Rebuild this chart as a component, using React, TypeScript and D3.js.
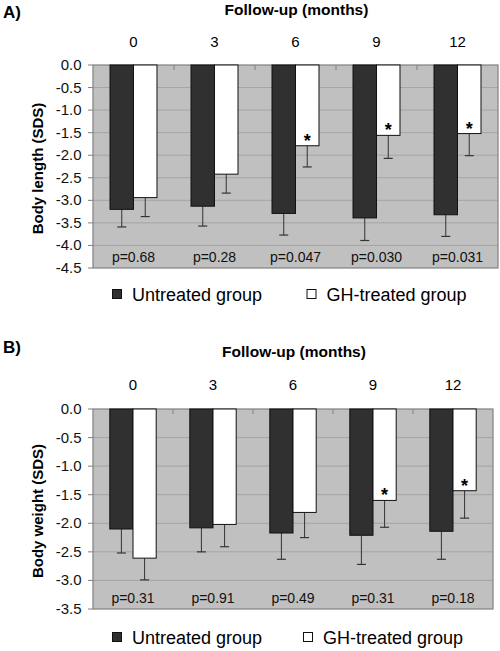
import React from "react";
import * as d3 from "d3";

const categories = ["0", "3", "6", "9", "12"];
const seriesNames = ["Untreated group", "GH-treated group"];

const lengthUntreated = [-3.2, -3.13, -3.29, -3.39, -3.32];
const lengthUntreatedErr = [0.39, 0.44, 0.48, 0.5, 0.48];
const lengthGH = [-2.94, -2.42, -1.79, -1.56, -1.52];
const lengthGHErr = [0.42, 0.42, 0.47, 0.51, 0.49];
const lengthP = ["p=0.68", "p=0.28", "p=0.047", "p=0.030", "p=0.031"];
const lengthSig = [false, false, true, true, true];

const weightUntreated = [-2.1, -2.08, -2.17, -2.21, -2.14];
const weightUntreatedErr = [0.42, 0.42, 0.46, 0.51, 0.49];
const weightGH = [-2.61, -2.02, -1.81, -1.6, -1.43];
const weightGHErr = [0.38, 0.39, 0.44, 0.47, 0.48];
const weightP = ["p=0.31", "p=0.91", "p=0.49", "p=0.31", "p=0.18"];
const weightSig = [false, false, false, true, true];

const FONT = "'Liberation Sans', Arial, sans-serif";
const DARK = "#303030";

type PanelProps = {
  label: string;
  labelY: number;
  titleY: number;
  catY: number;
  top: number;
  bottom: number;
  left: number;
  right: number;
  min: number;
  yTitle: string;
  untreated: number[];
  untreatedErr: number[];
  gh: number[];
  ghErr: number[];
  pvals: string[];
  sig: boolean[];
  legendY: number;
  legendX2: number;
};

function Panel(p: PanelProps) {
  const x = d3
    .scaleBand<string>()
    .domain(categories)
    .range([p.left, p.right])
    .paddingInner(0.42)
    .paddingOuter(0.21);
  const xs = d3.scaleBand<number>().domain([0, 1]).range([0, x.bandwidth()]);
  const y = d3.scaleLinear().domain([p.min, 0]).range([p.bottom, p.top]);
  const ticks = d3.range(0, p.min - 0.001, -0.5);
  const step = x.step();
  const centerX = (p.left + p.right) / 2;
  const centerY = (p.top + p.bottom) / 2;
  const series = [
    { vals: p.untreated, err: p.untreatedErr, fill: DARK },
    { vals: p.gh, err: p.ghErr, fill: "#ffffff" },
  ];
  return (
    <g>
      <text x={3} y={p.labelY} fontSize={17} fontWeight="bold" fontFamily={FONT}>
        {p.label}
      </text>
      <text x={centerX + 1} y={p.titleY} fontSize={15.5} fontWeight="bold" fontFamily={FONT} textAnchor="middle">
        Follow-up (months)
      </text>
      {categories.map((c) => (
        <text key={c} x={(x(c) ?? 0) + x.bandwidth() / 2} y={p.catY} fontSize={15} fontFamily={FONT} textAnchor="middle">
          {c}
        </text>
      ))}
      <rect x={p.left} y={p.top} width={p.right - p.left} height={p.bottom - p.top} fill="#c0c0c0" />
      {ticks.map((t) => (
        <g key={t}>
          {t !== 0 && t > p.min + 0.001 && (
            <line x1={p.left} x2={p.right} y1={y(t)} y2={y(t)} stroke="#a4a4a4" strokeWidth={1} />
          )}
          <line x1={p.left - 5} x2={p.left} y1={y(t)} y2={y(t)} stroke="#808080" strokeWidth={1} />
          <text x={81.5} y={y(t) + 5} fontSize={15} fontFamily={FONT} textAnchor="end" fill="#111">
            {t === 0 ? "0.0" : t.toFixed(1)}
          </text>
        </g>
      ))}
      {categories.slice(1).map((c) => (
        <line key={c} x1={p.left + step * categories.indexOf(c)} x2={p.left + step * categories.indexOf(c)} y1={p.top} y2={p.top + 5} stroke="#808080" />
      ))}
      <rect x={p.left} y={p.top} width={p.right - p.left} height={p.bottom - p.top} fill="none" stroke="#808080" strokeWidth={1.2} />
      {series.map((s, si) =>
        categories.map((c, i) => {
          const bx = (x(c) ?? 0) + (xs(si) ?? 0);
          const bw = xs.bandwidth();
          const v = s.vals[i];
          const cx = bx + bw / 2;
          const ye = y(v - s.err[i]);
          return (
            <g key={`${si}-${c}`}>
              <line x1={cx} x2={cx} y1={y(v)} y2={ye} stroke="#333" strokeWidth={1} />
              <line x1={cx - 4.5} x2={cx + 4.5} y1={ye} y2={ye} stroke="#333" strokeWidth={1.2} />
              <rect x={bx} y={y(0)} width={bw} height={y(v) - y(0)} fill={s.fill} stroke="#111" strokeWidth={1} />
              {si === 1 && p.sig[i] && (
                <text x={cx} y={y(v) + 1} fontSize={18} fontWeight="bold" fontFamily={FONT} textAnchor="middle">
                  *
                </text>
              )}
            </g>
          );
        })
      )}
      {categories.map((c, i) => (
        <text key={c} x={(x(c) ?? 0) + x.bandwidth() / 2} y={p.bottom - 6} fontSize={14} fontFamily={FONT} textAnchor="middle" fill="#111">
          {p.pvals[i]}
        </text>
      ))}
      <text
        transform={`translate(42.5,${centerY + 2}) rotate(-90)`}
        fontSize={15}
        fontWeight="bold"
        fontFamily={FONT}
        textAnchor="middle"
      >
        {p.yTitle}
      </text>
      <rect x={112.5} y={p.legendY - 4.5} width={9} height={9} fill={DARK} stroke="#111" />
      <text x={132} y={p.legendY + 6.5} fontSize={18} fontFamily={FONT}>
        {seriesNames[0]}
      </text>
      <rect x={p.legendX2} y={p.legendY - 4.5} width={9} height={9} fill="#fff" stroke="#111" />
      <text x={p.legendX2 + 19.5} y={p.legendY + 6.5} fontSize={18} fontFamily={FONT}>
        {seriesNames[1]}
      </text>
    </g>
  );
}

export default function App() {
  return (
    <svg width={500} height={651} style={{ position: "absolute", left: 0, top: 0, background: "#fff" }}>
      <rect width={500} height={651} fill="#fff" />
      <Panel
        label="A)"
        labelY={18}
        titleY={15}
        catY={47}
        top={65}
        bottom={268}
        left={93}
        right={498}
        min={-4.5}
        yTitle="Body length (SDS)"
        untreated={lengthUntreated}
        untreatedErr={lengthUntreatedErr}
        gh={lengthGH}
        ghErr={lengthGHErr}
        pvals={lengthP}
        sig={lengthSig}
        legendY={294}
        legendX2={307}
      />
      <Panel
        label="B)"
        labelY={353}
        titleY={357}
        catY={390}
        top={409}
        bottom={609}
        left={93}
        right={493}
        min={-3.5}
        yTitle="Body weight (SDS)"
        untreated={weightUntreated}
        untreatedErr={weightUntreatedErr}
        gh={weightGH}
        ghErr={weightGHErr}
        pvals={weightP}
        sig={weightSig}
        legendY={637}
        legendX2={303.5}
      />
    </svg>
  );
}
